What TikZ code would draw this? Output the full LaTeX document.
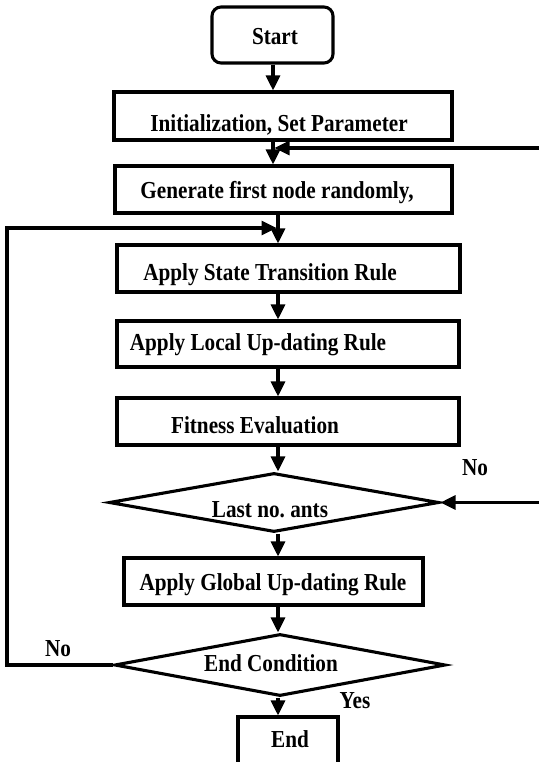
\documentclass[tikz,border=0pt]{standalone}
\usepackage{graphicx}
\usepackage{fontspec}
\setmainfont{Liberation Serif}
\usetikzlibrary{shapes.geometric,arrows.meta}
\frenchspacing
\newcommand{\talltext}[1]{\scalebox{1}[1.15]{#1}}
\tikzset{
  box/.style={draw, line width=3.1pt, inner sep=0pt},
  dia/.style={draw, diamond, line width=3.1pt, inner sep=0pt},
  txt/.style={font=\bfseries\fontsize{21.2}{25}\selectfont, inner sep=0pt, anchor=base},
  lbl/.style={font=\bfseries\fontsize{21.2}{25}\selectfont, inner sep=0pt, anchor=base},
  arr/.style={line width=3.1pt, -{Triangle[length=15pt,width=14pt]}},
  darr/.style={line width=3.1pt, {Triangle[length=15pt,width=14pt]}-{Triangle[length=15pt,width=14pt]}}
}
\begin{document}
\begin{tikzpicture}[x=1pt,y=-1pt]
\useasboundingbox (0,0) rectangle (538,762);
% boxes
\node[box, rounded corners=9pt, minimum width=121pt, minimum height=56pt] (start) at (272.5,35) {};
\node[box, minimum width=338pt, minimum height=48pt] (init) at (283,116) {};
\node[box, minimum width=337pt, minimum height=47pt] (gen) at (283.5,189.5) {};
\node[box, minimum width=343pt, minimum height=47pt] (state) at (288.5,268.5) {};
\node[box, minimum width=342pt, minimum height=46pt] (local) at (288,344) {};
\node[box, minimum width=342pt, minimum height=47pt] (fit) at (288,421.5) {};
\node[dia, minimum width=330pt, minimum height=59pt] (d1) at (274,502.5) {};
\node[box, minimum width=299pt, minimum height=47pt] (glob) at (273.5,581.5) {};
\node[dia, minimum width=331pt, minimum height=62pt] (d2) at (280,665) {};
\node[box, minimum width=100pt, minimum height=56pt] (end) at (288,745) {};
% texts
\node[txt] (tstart) at (275,45) {\talltext{Start}};
\node[txt] (tinit) at (279,131.5) {\talltext{Initialization, Set Parameter}};
\node[txt] (tgen) at (277,198) {\talltext{Generate first node randomly,}};
\node[txt] (tstate) at (270,280) {\talltext{Apply State Transition Rule}};
\node[txt] (tlocal) at (258,350) {\talltext{Apply Local Up-dating Rule}};
\node[txt] (tfit) at (255,433) {\talltext{Fitness Evaluation}};
\node[txt] (td1) at (270,517) {\talltext{Last no. ants}};
\node[txt] (tglob) at (273,590) {\talltext{Apply Global Up-dating Rule}};
\node[txt] (td2) at (271,671) {\talltext{End Condition}};
\node[txt] (tend) at (290,747) {\talltext{End}};
\node[lbl] (no1) at (475,475) {\talltext{No}};
\node[lbl] (no2) at (58,656) {\talltext{No}};
\node[lbl] (yes) at (355,708) {\talltext{Yes}};
% spine coordinates
\coordinate (s1) at (273,0);
\coordinate (s2) at (278,0);
\coordinate (j1) at (278,228);
\coordinate (j2) at (273,148);
\coordinate (cl) at (7,228);
\coordinate (cr) at (541,148);
% main flow
\draw[arr] (start.south -| s1) -- (init.north -| s1);
\draw[arr] (init.south -| s1) -- (gen.north -| s1);
\draw[arr] (gen.south -| s2) -- (state.north -| s2);
\draw[arr] (state.south -| s2) -- (local.north -| s2);
\draw[arr] (local.south -| s2) -- (fit.north -| s2);
\draw[arr] (fit.south -| s2) -- (d1.north -| s2);
\draw[arr] (d1.south -| s2) -- (glob.north -| s2);
\draw[arr] (glob.south -| s2) -- (d2.north -| s2);
\draw[arr] (d2.south -| s2) -- (end.north -| s2);
% loops
\draw[arr, shorten >=1.5pt] (d2.west) -| (cl) -- (j1);
\draw[darr, shorten >=1.5pt] (d1.east) -| (cr) -- (j2);
\end{tikzpicture}
\end{document}
